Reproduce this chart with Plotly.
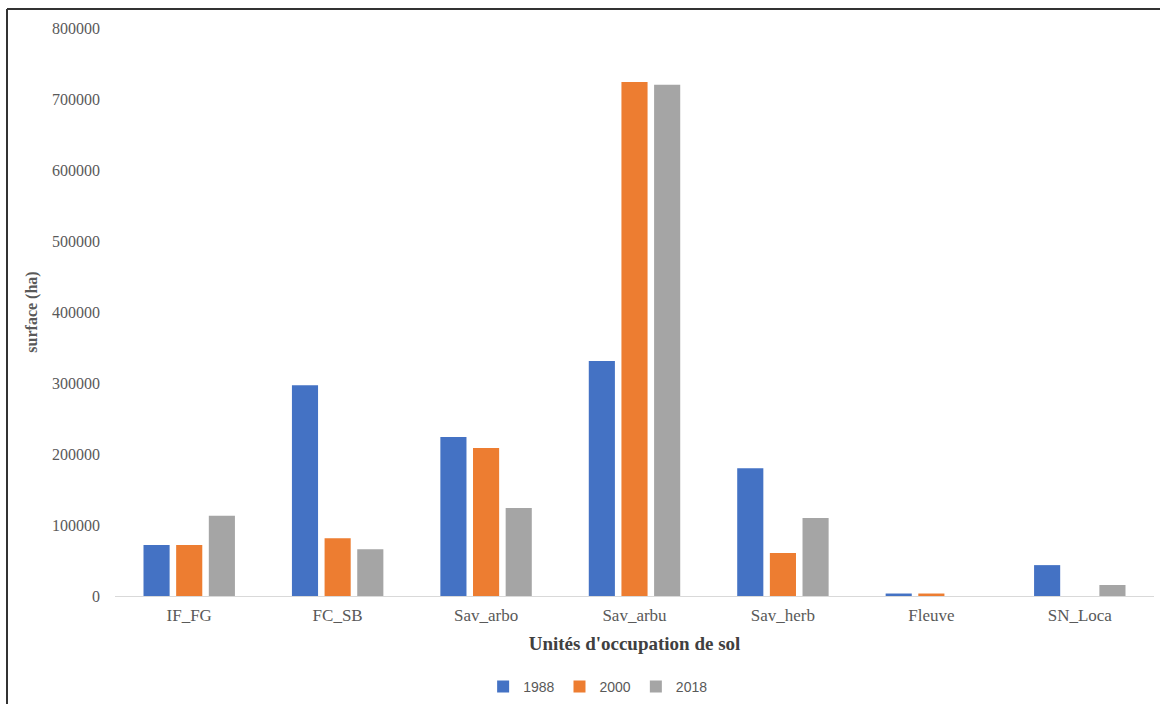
import plotly.graph_objects as go

# Land-use units and surface areas (ha) per survey year
categories = ["IF_FG", "FC_SB", "Sav_arbo", "Sav_arbu", "Sav_herb", "Fleuve", "SN_Loca"]
surface_1988 = [72000, 297000, 224000, 331000, 180000, 3500, 43500]
surface_2000 = [72000, 81500, 208500, 724000, 60500, 3500, 0]
surface_2018 = [113000, 66000, 124000, 720000, 110000, 0, 15500]

series = [
    ("1988", surface_1988, "#4472C4"),
    ("2000", surface_2000, "#ED7D31"),
    ("2018", surface_2018, "#A5A5A5"),
]

fig = go.Figure()
for name, values, color in series:
    fig.add_trace(go.Bar(
        name=name, x=categories, y=values,
        marker=dict(color=color, line=dict(width=0)),
    ))

serif = "Liberation Serif, Times New Roman, serif"

# plot area geometry in pixels, used to place the outer frame lines
L, R, T, B = 115, 6, 28, 108
W, H = 1160, 704
pw, ph = W - L - R, H - T - B
fx0 = (7 - L) / pw
fy0 = (H - B - 9) / ph

fig.update_layout(
    width=W, height=H,
    margin=dict(l=L, r=R, t=T, b=B, autoexpand=False),
    paper_bgcolor="white", plot_bgcolor="white",
    barmode="group", bargap=0.34, bargroupgap=0.2,
    showlegend=True,
    legend=dict(
        orientation="h", x=0.465, xanchor="center", y=-91 / ph, yanchor="middle",
        font=dict(family="Liberation Sans, Arial, sans-serif", size=14, color="#595959"),
        itemwidth=30, traceorder="normal",
    ),
    xaxis=dict(
        automargin=False,
        showgrid=False, showline=True, linecolor="#D9D9D9", linewidth=1,
        ticks="", ticklabelstandoff=4,
        tickfont=dict(family=serif, size=17, color="#595959"),
        title=dict(text="<b>Unités d'occupation de sol</b>", standoff=12,
                   font=dict(family=serif, size=19, color="#404040")),
    ),
    yaxis=dict(
        automargin=False,
        range=[0, 800000], dtick=100000, tickformat="d",
        showgrid=False, zeroline=False, showline=False,
        ticks="", ticklabelstandoff=14,
        tickfont=dict(family=serif, size=16, color="#595959"),
        title=dict(text="<b>surface (ha)</b>", standoff=10,
                   font=dict(family=serif, size=16, color="#595959")),
    ),
    shapes=[
        dict(type="line", xref="paper", yref="paper", x0=fx0, x1=(W - L) / pw + 0.01,
             y0=fy0, y1=fy0, line=dict(color="#333333", width=2)),
        dict(type="line", xref="paper", yref="paper", x0=fx0, x1=fx0,
             y0=fy0, y1=-B / ph - 0.01, line=dict(color="#333333", width=2)),
    ],
)

fig.write_html("out.html")
